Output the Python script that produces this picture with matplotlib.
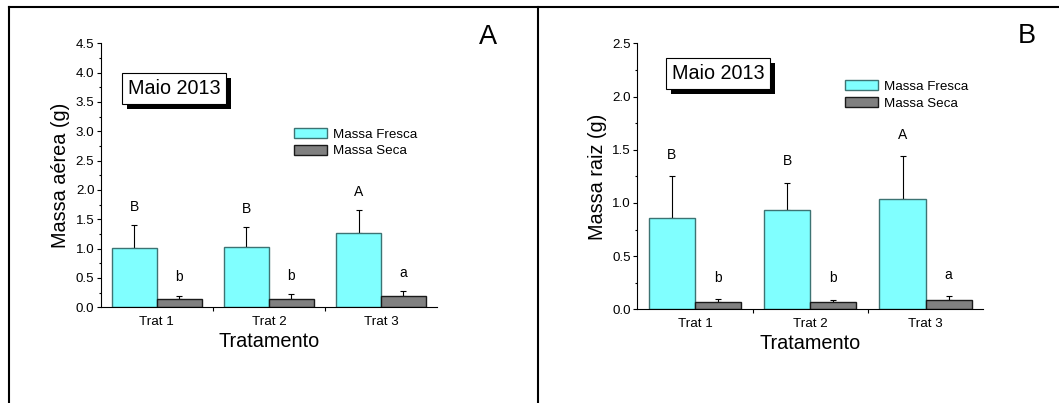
import matplotlib
matplotlib.use("Agg")
import matplotlib.pyplot as plt
import matplotlib.patheffects as pe
from matplotlib.lines import Line2D
from matplotlib.ticker import MultipleLocator, FixedLocator
import numpy as np

plt.rcParams['font.family'] = ['Liberation Sans', 'DejaVu Sans']

# data
tratamentos = ['Trat 1', 'Trat 2', 'Trat 3']
series_names = ['Massa Fresca', 'Massa Seca']

aerea_fresca = [1.01, 1.03, 1.27]
aerea_fresca_err = [0.39, 0.34, 0.38]
aerea_seca = [0.14, 0.14, 0.19]
aerea_seca_err = [0.06, 0.08, 0.08]
aerea_letras_fresca = ['B', 'B', 'A']
aerea_letras_seca = ['b', 'b', 'a']

raiz_fresca = [0.86, 0.93, 1.04]
raiz_fresca_err = [0.39, 0.26, 0.40]
raiz_seca = [0.066, 0.066, 0.087]
raiz_seca_err = [0.028, 0.024, 0.038]
raiz_letras_fresca = ['B', 'B', 'A']
raiz_letras_seca = ['b', 'b', 'a']

COR_FRESCA = '#80ffff'
COR_SECA = '#808080'


def painel(ax, fresca, fresca_err, seca, seca_err, let_f, let_s, ymax, ylabel,
           gap, box_xy, leg_xy):
    x = np.arange(1, len(tratamentos) + 1)
    w = 0.4
    ax.bar(x - w / 2, fresca, w, color=COR_FRESCA, edgecolor='#3d7373',
           linewidth=1.0, label=series_names[0], zorder=2)
    ax.bar(x + w / 2, seca, w, color=COR_SECA, edgecolor='#1a1a1a',
           linewidth=1.0, label=series_names[1], zorder=2)
    ax.errorbar(x - w / 2, fresca, yerr=[np.zeros(3), fresca_err], fmt='none',
                ecolor='black', elinewidth=0.8, capsize=2, capthick=0.8, zorder=1)
    ax.errorbar(x + w / 2, seca, yerr=[np.zeros(3), seca_err], fmt='none',
                ecolor='black', elinewidth=0.8, capsize=2, capthick=0.8, zorder=1)

    # letters above error bars
    for i in range(len(x)):
        ax.text(x[i] - w / 2, fresca[i] + fresca_err[i] + gap, let_f[i],
                ha='center', va='center', fontsize=10)
        ax.text(x[i] + w / 2, seca[i] + seca_err[i] + gap, let_s[i],
                ha='center', va='center', fontsize=10)

    ax.set_xlim(0.5, 3.5)
    ax.set_ylim(0, ymax)
    ax.set_xticks(x)
    ax.set_xticklabels(tratamentos)
    ax.xaxis.set_minor_locator(FixedLocator([1.5, 2.5]))
    ax.yaxis.set_major_locator(MultipleLocator(0.5))
    ax.yaxis.set_minor_locator(MultipleLocator(0.25))
    ax.yaxis.set_major_formatter(matplotlib.ticker.FormatStrFormatter('%.1f'))
    ax.tick_params(axis='x', which='major', length=0, pad=6.5, labelsize=9.6)
    ax.tick_params(axis='x', which='minor', length=3, width=0.8, direction='out')
    ax.tick_params(axis='y', which='major', length=3, width=0.8, pad=1.5,
                   labelsize=9.6, direction='out')
    ax.tick_params(axis='y', which='minor', length=1.5, width=0.8, direction='out')
    for s in ['top', 'right']:
        ax.spines[s].set_visible(False)
    for s in ['left', 'bottom']:
        ax.spines[s].set_linewidth(0.8)

    ax.set_xlabel('Tratamento', fontsize=14.3, labelpad=3)
    ax.set_ylabel(ylabel, fontsize=14.3, labelpad=4)

    t = ax.text(box_xy[0], box_xy[1], 'Maio 2013', transform=ax.transAxes,
                ha='center', va='center', fontsize=14.2,
                bbox=dict(boxstyle='square,pad=0.3', facecolor='white',
                          edgecolor='black', linewidth=0.8))
    t.get_bbox_patch().set_path_effects([
        pe.withSimplePatchShadow(offset=(3.4, -3.4), shadow_rgbFace='black', alpha=1)])

    ax.legend(loc='upper left', bbox_to_anchor=leg_xy, frameon=False,
              fontsize=9.6, handlelength=2.5, handleheight=0.8,
              handletextpad=0.4, labelspacing=0.3, borderpad=0,
              borderaxespad=0)


fig = plt.figure(figsize=(10.59, 4.03), dpi=100)
axA = fig.add_axes([0.0951, 0.2375, 0.3176, 0.6551])
axB = fig.add_axes([0.6018, 0.2325, 0.3267, 0.6600])

painel(axA, aerea_fresca, aerea_fresca_err, aerea_seca, aerea_seca_err,
       aerea_letras_fresca, aerea_letras_seca, 4.5, 'Massa aérea (g)',
       0.31, (0.218, 0.828), (0.575, 0.679))
painel(axB, raiz_fresca, raiz_fresca_err, raiz_seca, raiz_seca_err,
       raiz_letras_fresca, raiz_letras_seca, 2.5, 'Massa raiz (g)',
       0.2, (0.234, 0.886), (0.600, 0.861))

fig.text(0.4608, 0.909, 'A', fontsize=19.5, ha='center', va='center')
fig.text(0.9695, 0.9107, 'B', fontsize=19.5, ha='center', va='center')

# panel frame lines
ytop = 1 - 7 / 403
fig.add_artist(Line2D([9 / 1059, 1], [ytop, ytop], color='black', linewidth=1.5))
fig.add_artist(Line2D([9 / 1059, 9 / 1059], [0, ytop], color='black', linewidth=1.5))
fig.add_artist(Line2D([538 / 1059, 538 / 1059], [0, ytop], color='black', linewidth=1.5))

fig.savefig('out.png', dpi=100)
